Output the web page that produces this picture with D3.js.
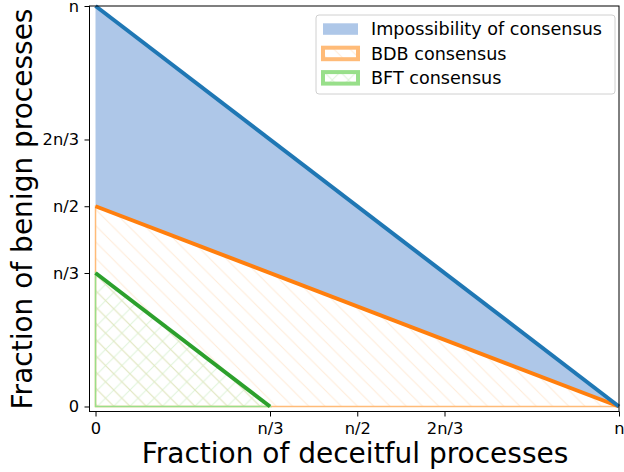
<!DOCTYPE html>
<html>
<head>
<meta charset="UTF-8">
<title>Consensus regions</title>
<style>
    body { margin: 0; background: #fff; }
    text { font-family: "DejaVu Sans", sans-serif; }
</style>
</head>
<body>
<div id="chart"></div>
<script src="https://d3js.org/d3.v7.min.js"></script>
<script>
// tick positions (fraction of n) and their labels
const tickValues = [0, 1/3, 1/2, 2/3, 1];
const tickLabels = ["0", "n/3", "n/2", "2n/3", "n"];

// boundary lines: x = fraction deceitful, y = fraction benign
const impossX = [0, 1];
const impossY = [1, 0];
const bdbX = [0, 1];
const bdbY = [1/2, 0];
const bftX = [0, 1/3];
const bftY = [1/3, 0];

const legendLabels = ["Impossibility of consensus", "BDB consensus", "BFT consensus"];

const W = 624, H = 472;
const svg = d3.select("#chart").append("svg")
    .attr("width", W).attr("height", H);

const hs = 16.25; // hatch spacing
const defs = svg.append("defs");
// single "\" hatching for BDB
const pBdb = defs.append("pattern").attr("id", "hatchBdb")
    .attr("patternUnits", "userSpaceOnUse").attr("width", hs).attr("height", hs);
pBdb.append("path").attr("d", `M-1,-1 L${hs + 1},${hs + 1} M-1,${hs - 1} L1,${hs + 1} M${hs - 1},-1 L${hs + 1},1`)
    .attr("stroke", "#ffbb78").attr("stroke-opacity", 0.3).attr("stroke-width", 1);
// cross hatching for BFT
const pBft = defs.append("pattern").attr("id", "hatchBft")
    .attr("patternUnits", "userSpaceOnUse").attr("width", hs).attr("height", hs);
pBft.append("path").attr("d", `M0,0 L${hs},${hs} M${hs},0 L0,${hs}`)
    .attr("stroke", "#98df8a").attr("stroke-opacity", 0.32).attr("stroke-width", 1);

const x = d3.scaleLinear().domain([-0.0115, 1]).range([89.5, 619]);
const y = d3.scaleLinear().domain([-0.0125, 1]).range([411.5, 6]);

const g = svg.append("g");

// impossibility region between blue and orange lines
const areaImposs = d3.area()
    .x((d, i) => x(impossX[i]))
    .y0((d, i) => y(bdbY[i]))
    .y1((d, i) => y(impossY[i]));
g.append("path").datum(impossX).attr("d", areaImposs).attr("fill", "#aec7e8");

// BDB region under orange line
const areaBdb = d3.area()
    .x((d, i) => x(bdbX[i]))
    .y0(y(0))
    .y1((d, i) => y(bdbY[i]));
g.append("path").datum(bdbX).attr("d", areaBdb)
    .attr("fill", "url(#hatchBdb)").attr("stroke", "#ffbb78").attr("stroke-width", 1.5);

// BFT region under green line
const areaBft = d3.area()
    .x((d, i) => x(bftX[i]))
    .y0(y(0))
    .y1((d, i) => y(bftY[i]));
g.append("path").datum(bftX).attr("d", areaBft)
    .attr("fill", "url(#hatchBft)").attr("stroke", "#98df8a").attr("stroke-width", 1.5);

// the boundary lines
const line = (xs, ys) => d3.line().x((d, i) => x(xs[i])).y((d, i) => y(ys[i]))(xs);
g.append("path").attr("d", line(bftX, bftY)).attr("stroke", "#2ca02c")
    .attr("stroke-width", 4).attr("fill", "none");
g.append("path").attr("d", line(bdbX, bdbY)).attr("stroke", "#ff7f0e")
    .attr("stroke-width", 4).attr("fill", "none");
g.append("path").attr("d", line(impossX, impossY)).attr("stroke", "#1f77b4")
    .attr("stroke-width", 4).attr("fill", "none");

// frame
svg.append("rect").attr("x", 89.5).attr("y", 6).attr("width", 529.5).attr("height", 405.5)
    .attr("fill", "none").attr("stroke", "#000").attr("stroke-width", 1);

// axes
const xAxis = svg.append("g").attr("transform", `translate(0,${411.5})`)
    .call(d3.axisBottom(x).tickValues(tickValues).tickFormat((d, i) => tickLabels[i])
        .tickSize(5).tickPadding(5.5).tickSizeOuter(0));
const yAxis = svg.append("g").attr("transform", `translate(89.5,0)`)
    .call(d3.axisLeft(y).tickValues(tickValues).tickFormat((d, i) => tickLabels[i])
        .tickSize(5).tickPadding(5.5).tickSizeOuter(0));
[xAxis, yAxis].forEach(a => {
    a.select(".domain").remove();
    a.selectAll(".tick line").attr("stroke", "#000");
    a.selectAll(".tick text").attr("font-size", 16.25).attr("fill", "#000")
        .attr("font-family", "DejaVu Sans");
});

// axis titles
svg.append("text").attr("x", 355).attr("y", 463).attr("text-anchor", "middle")
    .attr("font-size", 28).text("Fraction of deceitful processes");
svg.append("text").attr("transform", "translate(32,209) rotate(-90)")
    .attr("text-anchor", "middle").attr("font-size", 28).text("Fraction of benign processes");

// legend
const leg = svg.append("g").attr("transform", "translate(316,15)");
leg.append("rect").attr("width", 299).attr("height", 79).attr("rx", 3)
    .attr("fill", "#fff").attr("fill-opacity", 0.8).attr("stroke", "#d0d0d0");
const swatch = [
    { fill: "#aec7e8", stroke: "none", sw: 0 },
    { fill: "url(#hatchBdb)", stroke: "#ffbb78", sw: 4 },
    { fill: "url(#hatchBft)", stroke: "#98df8a", sw: 4 }
];
legendLabels.forEach((lab, i) => {
    const base = 20.3 + i * 24.4;
    leg.append("rect").attr("x", 7).attr("y", base - 12).attr("width", 35).attr("height", 11.5)
        .attr("fill", swatch[i].fill).attr("stroke", swatch[i].stroke).attr("stroke-width", swatch[i].sw);
    leg.append("text").attr("x", 55).attr("y", base).attr("font-size", 17.6).text(lab);
});
</script>
</body>
</html>
